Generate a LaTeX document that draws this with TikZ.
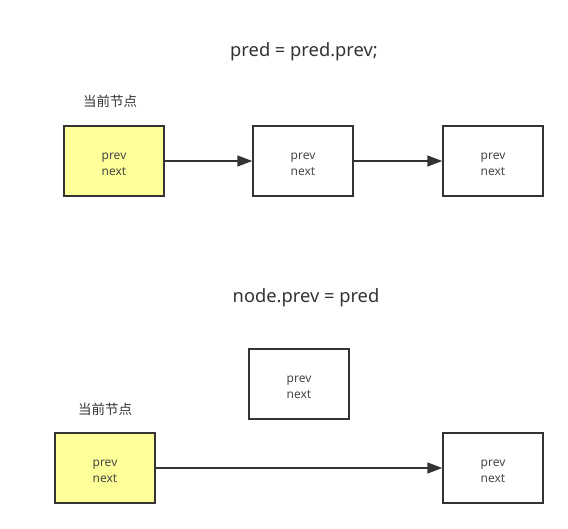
\documentclass[tikz,border=0pt]{standalone}
\usepackage{fontspec}
\setmainfont{Noto Sans}
\newfontfamily\cjk{Noto Sans CJK SC}
\usetikzlibrary{arrows.meta}
\definecolor{ink}{HTML}{333333}
\definecolor{cur}{HTML}{FFFF99}
% two centred lines, nudged down to sit at the box centre (extent kept)
\newcommand{\fields}{\raisebox{-3pt}[\height][\depth]{\begin{tabular}{@{}c@{}}prev\\next\end{tabular}}}
\tikzset{
  listnode/.style={draw=ink, line width=1.5pt, minimum width=100pt, minimum height=70pt,
    inner sep=0pt, font=\fontsize{12}{16}\selectfont, text=ink!90},
  curnode/.style={listnode, fill=cur},
  link/.style={draw=ink, line width=1.5pt, -{Triangle[length=15pt,width=11pt]}},
  caption/.style={font=\fontsize{18.3}{22}\selectfont, text=ink},
  tag/.style={font=\cjk\fontsize{13.5}{15}\selectfont, text=ink}
}
\begin{document}
\begin{tikzpicture}[x=1pt,y=-1pt]
\useasboundingbox (0,0) rectangle (568,528);
% step 1: move pred back
\node[caption] (t1) at (304,52) {pred = pred.prev;};
\node[tag] (l1) at (110,101) {当前节点};
\node[curnode] (a1) at (114,161) {\fields};
\node[listnode] (a2) at (303,161) {\fields};
\node[listnode] (a3) at (493,161) {\fields};
\draw[link] (a1) -- (a2);
\draw[link] (a2) -- (a3);
% step 2: link node back to pred
\node[caption] (t2) at (306,298) {node.prev = pred};
\node[listnode] (b2) at (299,384) {\fields};
\node[tag] (l2) at (105,409) {当前节点};
\node[curnode] (b1) at (105,468) {\fields};
\node[listnode] (b3) at (493,468) {\fields};
\draw[link] (b1) -- (b3);
\end{tikzpicture}
\end{document}
